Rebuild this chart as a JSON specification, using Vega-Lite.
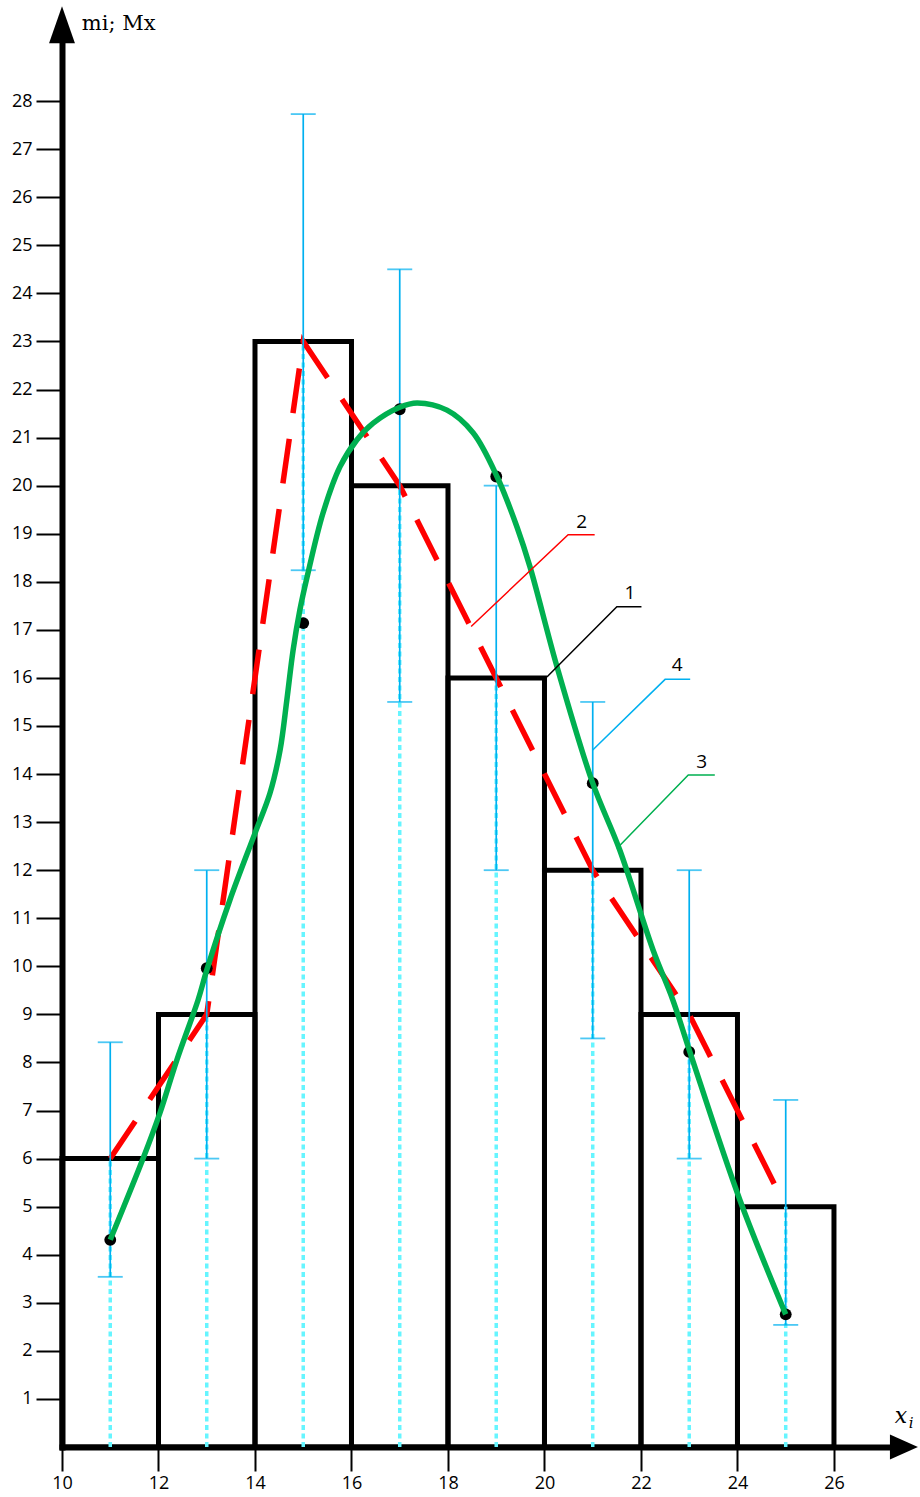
{
  "$schema": "https://vega.github.io/schema/vega-lite/v6.json",
  "width": 840,
  "height": 1418,
  "autosize": {"type": "none"},
  "padding": {"left": 62, "top": 29, "right": 18, "bottom": 50},
  "config": {"view": {"stroke": null}},
  "datasets": {
    "hist": [
      {"x0": 10, "x1": 12, "m": 6, "mid": 11, "lo": 3.54, "hi": 8.42, "M": 4.31, "z": 0},
      {"x0": 12, "x1": 14, "m": 9, "mid": 13, "lo": 6, "hi": 12, "M": 9.96, "z": 0},
      {"x0": 14, "x1": 16, "m": 23, "mid": 15, "lo": 18.24, "hi": 27.73, "M": 17.14, "z": 0},
      {"x0": 16, "x1": 18, "m": 20, "mid": 17, "lo": 15.5, "hi": 24.5, "M": 21.59, "z": 0},
      {"x0": 18, "x1": 20, "m": 16, "mid": 19, "lo": 12, "hi": 20, "M": 20.19, "z": 0},
      {"x0": 20, "x1": 22, "m": 12, "mid": 21, "lo": 8.5, "hi": 15.5, "M": 13.81, "z": 0},
      {"x0": 22, "x1": 24, "m": 9, "mid": 23, "lo": 6, "hi": 12, "M": 8.22, "z": 0},
      {"x0": 24, "x1": 26, "m": 5, "mid": 25, "lo": 2.54, "hi": 7.22, "M": 2.76, "z": 0}
    ],
    "curve": [
      {"x": 11, "y": 4.31}, {"x": 11.68, "y": 6.0}, {"x": 12.03, "y": 6.95}, {"x": 12.38, "y": 8.05},
      {"x": 12.82, "y": 9.3}, {"x": 13.0, "y": 9.92}, {"x": 13.48, "y": 11.38}, {"x": 14.0, "y": 12.77},
      {"x": 14.31, "y": 13.6}, {"x": 14.52, "y": 14.5}, {"x": 14.66, "y": 15.54}, {"x": 14.79, "y": 16.58},
      {"x": 14.93, "y": 17.41}, {"x": 15.08, "y": 18.1}, {"x": 15.41, "y": 19.43}, {"x": 15.76, "y": 20.39},
      {"x": 16.11, "y": 20.95}, {"x": 16.45, "y": 21.3}, {"x": 17.0, "y": 21.63}, {"x": 17.36, "y": 21.72},
      {"x": 17.98, "y": 21.57}, {"x": 18.52, "y": 21.1}, {"x": 19.02, "y": 20.18}, {"x": 19.43, "y": 19.14},
      {"x": 19.7, "y": 18.31}, {"x": 20.26, "y": 16.23}, {"x": 21.0, "y": 13.81}, {"x": 21.56, "y": 12.42},
      {"x": 22.25, "y": 10.34}, {"x": 22.66, "y": 9.3}, {"x": 23.02, "y": 8.2}, {"x": 24.05, "y": 5.14},
      {"x": 25, "y": 2.76}
    ],
    "leaders": [
      {"id": "1", "ord": 0, "x": 20.05, "y": 16.02, "col": "#000000"},
      {"id": "1", "ord": 1, "x": 21.5, "y": 17.48, "col": "#000000"},
      {"id": "1", "ord": 2, "x": 22.01, "y": 17.48, "col": "#000000"},
      {"id": "2", "ord": 0, "x": 18.48, "y": 17.07, "col": "#FF0000"},
      {"id": "2", "ord": 1, "x": 20.49, "y": 18.98, "col": "#FF0000"},
      {"id": "2", "ord": 2, "x": 21.04, "y": 18.98, "col": "#FF0000"},
      {"id": "3", "ord": 0, "x": 21.5, "y": 12.45, "col": "#00B050"},
      {"id": "3", "ord": 1, "x": 22.98, "y": 13.98, "col": "#00B050"},
      {"id": "3", "ord": 2, "x": 23.53, "y": 13.98, "col": "#00B050"},
      {"id": "4", "ord": 0, "x": 21.0, "y": 14.5, "col": "#00B0F0"},
      {"id": "4", "ord": 1, "x": 22.5, "y": 15.97, "col": "#00B0F0"},
      {"id": "4", "ord": 2, "x": 23.02, "y": 15.97, "col": "#00B0F0"}
    ],
    "labels": [
      {"t": "1", "x": 21.77, "y": 17.76},
      {"t": "2", "x": 20.77, "y": 19.25},
      {"t": "3", "x": 23.26, "y": 14.26},
      {"t": "4", "x": 22.75, "y": 16.27}
    ]
  },
  "layer": [
    {
      "data": {"name": "hist"},
      "mark": {"type": "rect", "fill": "white", "fillOpacity": 0, "stroke": "black", "strokeWidth": 5, "strokeJoin": "miter"},
      "encoding": {
        "x": {
          "field": "x0", "type": "quantitative",
          "scale": {"domain": [10, 27.41], "nice": false, "zero": false},
          "axis": {
            "values": [10, 12, 14, 16, 18, 20, 22, 24, 26], "title": null, "grid": false,
            "domainWidth": 6, "domainColor": "black", "domainCap": "square",
            "tickColor": "black", "tickWidth": 2, "tickSize": 24,
            "labelFont": "Open Sans", "labelFontSize": 18, "labelColor": "black",
            "labelPadding": 3, "labelFlush": false, "labelOverlap": false
          }
        },
        "x2": {"field": "x1"},
        "y": {
          "field": "m", "type": "quantitative",
          "scale": {"domain": [0, 29.5], "nice": false, "zero": false},
          "axis": {
            "values": [1, 2, 3, 4, 5, 6, 7, 8, 9, 10, 11, 12, 13, 14, 15, 16, 17, 18, 19, 20, 21, 22, 23, 24, 25, 26, 27, 28],
            "title": null, "grid": false,
            "domainWidth": 6, "domainColor": "black", "domainCap": "square",
            "tickColor": "black", "tickWidth": 2, "tickSize": 26,
            "labelFont": "Open Sans", "labelFontSize": 18, "labelColor": "black",
            "labelPadding": 4, "labelFlush": false, "labelOverlap": false
          }
        },
        "y2": {"field": "z"}
      }
    },
    {
      "data": {"name": "hist"},
      "mark": {"type": "rule", "color": "#66F5FF", "strokeWidth": 3.5, "strokeDash": [5, 3.5]},
      "encoding": {
        "x": {"field": "mid", "type": "quantitative"},
        "y": {"field": "z", "type": "quantitative"},
        "y2": {"field": "m"}
      }
    },
    {
      "data": {"name": "hist"},
      "mark": {"type": "line", "color": "#FF0000", "strokeWidth": 5.5, "strokeDash": [45, 26], "strokeCap": "butt"},
      "encoding": {
        "x": {"field": "mid", "type": "quantitative"},
        "y": {"field": "m", "type": "quantitative"}
      }
    },
    {
      "data": {"name": "hist"},
      "mark": {"type": "rule", "color": "#00B0F0", "strokeWidth": 1.7},
      "encoding": {
        "x": {"field": "mid", "type": "quantitative"},
        "y": {"field": "lo", "type": "quantitative"},
        "y2": {"field": "hi"}
      }
    },
    {
      "data": {"name": "hist"},
      "mark": {"type": "tick", "orient": "horizontal", "color": "#00B0F0", "size": 25, "thickness": 1.8},
      "encoding": {
        "x": {"field": "mid", "type": "quantitative"},
        "y": {"field": "lo", "type": "quantitative"}
      }
    },
    {
      "data": {"name": "hist"},
      "mark": {"type": "tick", "orient": "horizontal", "color": "#00B0F0", "size": 25, "thickness": 1.8},
      "encoding": {
        "x": {"field": "mid", "type": "quantitative"},
        "y": {"field": "hi", "type": "quantitative"}
      }
    },
    {
      "data": {"name": "hist"},
      "mark": {"type": "point", "filled": true, "color": "black", "size": 140, "opacity": 1},
      "encoding": {
        "x": {"field": "mid", "type": "quantitative"},
        "y": {"field": "M", "type": "quantitative"}
      }
    },
    {
      "data": {"name": "curve"},
      "mark": {"type": "line", "color": "#00B050", "strokeWidth": 5.5, "interpolate": "catmull-rom"},
      "encoding": {
        "x": {"field": "x", "type": "quantitative"},
        "y": {"field": "y", "type": "quantitative"}
      }
    },
    {
      "data": {"name": "leaders"},
      "mark": {"type": "line", "strokeWidth": 1.5},
      "encoding": {
        "x": {"field": "x", "type": "quantitative"},
        "y": {"field": "y", "type": "quantitative"},
        "detail": {"field": "id", "type": "nominal"},
        "order": {"field": "ord", "type": "quantitative"},
        "color": {"field": "col", "type": "nominal", "scale": null}
      }
    },
    {
      "data": {"name": "labels"},
      "mark": {"type": "text", "font": "Open Sans", "fontSize": 19, "color": "black", "align": "center", "baseline": "middle"},
      "encoding": {
        "x": {"field": "x", "type": "quantitative"},
        "y": {"field": "y", "type": "quantitative"},
        "text": {"field": "t", "type": "nominal"}
      }
    },
    {
      "data": {"values": [{"x": 10, "y": 29.59}]},
      "mark": {"type": "point", "shape": "M0,-1L0.7,1L-0.7,1Z", "size": 1369, "filled": true, "color": "black", "opacity": 1},
      "encoding": {
        "x": {"field": "x", "type": "quantitative"},
        "y": {"field": "y", "type": "quantitative"}
      }
    },
    {
      "data": {"values": [{"x": 27.45, "y": 0}]},
      "mark": {"type": "point", "shape": "M1,0L-1,-0.9L-1,0.9Z", "size": 784, "filled": true, "color": "black", "opacity": 1},
      "encoding": {
        "x": {"field": "x", "type": "quantitative"},
        "y": {"field": "y", "type": "quantitative"}
      }
    },
    {
      "data": {"values": [{"x": 10.41, "y": 29.48, "t": "mi; Mx"}]},
      "mark": {"type": "text", "font": "DejaVu Serif", "fontSize": 21, "color": "black", "align": "left", "baseline": "alphabetic"},
      "encoding": {
        "x": {"field": "x", "type": "quantitative"},
        "y": {"field": "y", "type": "quantitative"},
        "text": {"field": "t", "type": "nominal"}
      }
    },
    {
      "data": {"values": [{"x": 27.26, "y": 0.5, "t": "x"}]},
      "mark": {"type": "text", "font": "DejaVu Serif", "fontStyle": "italic", "fontSize": 22, "color": "black", "align": "left", "baseline": "alphabetic"},
      "encoding": {
        "x": {"field": "x", "type": "quantitative"},
        "y": {"field": "y", "type": "quantitative"},
        "text": {"field": "t", "type": "nominal"}
      }
    },
    {
      "data": {"values": [{"x": 27.55, "y": 0.395, "t": "i"}]},
      "mark": {"type": "text", "font": "DejaVu Serif", "fontStyle": "italic", "fontSize": 15, "color": "black", "align": "left", "baseline": "alphabetic"},
      "encoding": {
        "x": {"field": "x", "type": "quantitative"},
        "y": {"field": "y", "type": "quantitative"},
        "text": {"field": "t", "type": "nominal"}
      }
    }
  ]
}
